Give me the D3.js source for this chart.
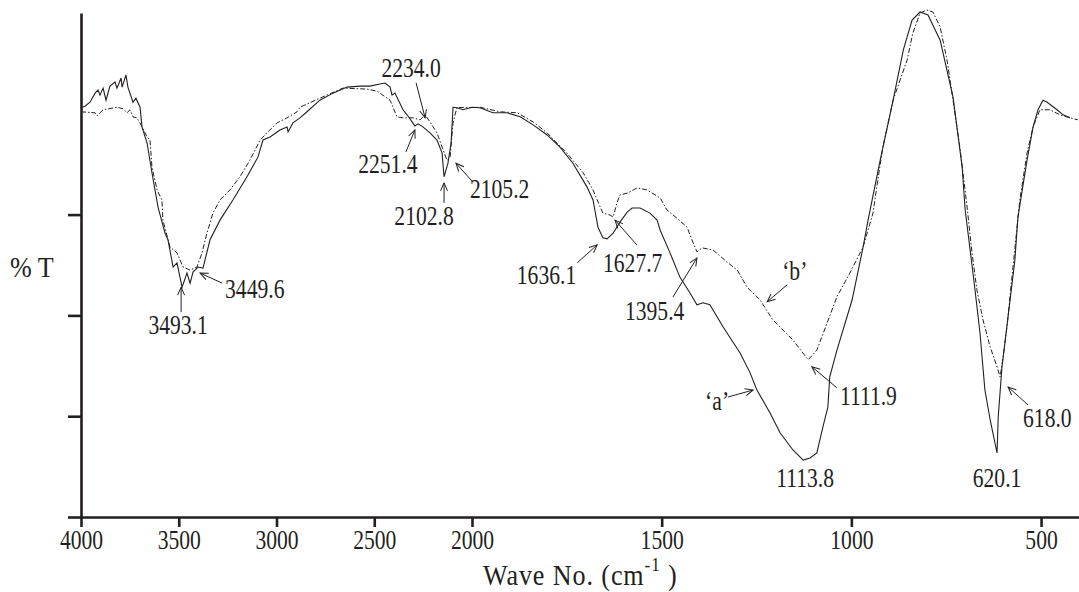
<!DOCTYPE html>
<html>
<head>
<meta charset="utf-8">
<script src="https://cdn.jsdelivr.net/npm/d3@7"></script>
<style>
  body { margin: 0; background: #fff; }
  svg { display: block; }
  text { font-family: "Liberation Serif", "Times New Roman", serif; fill: #231f20; }
</style>
</head>
<body>
<svg></svg>
<script>
// wave numbers (cm-1) and %T, sample 'a' (solid)
const waveA = [4000,3980,3954,3928,3913,3903,3887,3872,3852,3826,3816,3795,3790,3770,3760,3734,3719,3698,3688,3662,
  3637,3606,3570,3555,3529,3509,3483,3458,3442,3427,3402,3376,3340,3289,3223,3151,3095,3069,3033,2982,
  2946,2941,2916,2880,2844,2778,2711,2639,2573,2522,2471,2445,2419,2409,2394,2353,2332,2292,2276,2251,
  2215,2179,2153,2143,2123,2107,2097,2077,2046,2000,1979,1945,1908,1873,1839,1802,1768,1734,1697,1681,
  1668,1655,1644,1628,1610,1591,1578,1557,1531,1512,1504,1478,1452,1425,1407,1391,1373,1338,1293,1267,
  1249,1214,1188,1154,1127,1109,1091,1075,1062,1057,1038,998,969,956,924,890,863,840,819,798,
  766,732,708,700,687,674,661,648,634,616,613,603,587,569,561,537,521,508,495,484,
  458,442,424];
const transA = [81.2,81.5,82.3,84.1,84.7,83.7,85.1,82.7,85.5,86.3,85.1,87.1,85.3,87.7,85.3,82.3,83.1,81.3,77.4,74.2,
  68.3,61.5,56.3,55.0,49.6,50.4,45.6,48.4,46.4,48.6,49.6,49.4,55.0,58.9,62.9,67.5,71.4,74.8,75.4,76.8,
  77.4,76.4,78.2,79.2,80.4,82.7,84.1,85.3,85.5,85.5,85.9,86.1,85.3,83.7,84.1,80.8,79.8,77.6,78.0,77.4,
  76.2,74.8,72.2,67.5,70.2,74.2,81.3,81.2,80.8,81.3,81.2,80.2,80.2,79.4,77.8,75.8,73.4,70.2,65.5,62.9,
  57.5,55.4,55.2,56.3,58.5,60.5,61.3,61.3,60.3,58.9,56.9,52.4,47.6,44.4,42.1,42.5,42.1,37.7,32.5,28.6,
  25.2,20.6,16.7,13.3,11.3,11.7,12.7,17.9,21.8,27.8,33.1,43.1,53.6,58.9,70.8,82.7,92.7,98.6,100.2,99.6,
  94.6,83.3,69.4,60.9,53.0,45.0,36.5,25.2,19.2,12.7,19.8,29.8,39.7,51.0,59.5,70.8,77.4,80.8,82.7,82.3,
  80.8,79.8,79.2];

// sample 'b' (dashed)
const waveB = [4000,3928,3918,3887,3816,3785,3765,3749,3734,3714,3698,3662,3647,3637,3611,3586,3581,3545,3509,3478,
  3442,3407,3381,3356,3325,3289,3238,3187,3136,3084,3049,2997,2946,2895,2880,2778,2660,2537,2486,2419,
  2384,2353,2302,2266,2240,2215,2179,2153,2128,2112,2097,2077,2026,1979,1926,1881,1839,1802,1750,1707,
  1681,1670,1655,1636,1628,1618,1610,1589,1565,1539,1504,1486,1460,1433,1417,1407,1394,1365,1328,1301,
  1275,1241,1207,1154,1114,1091,1064,1038,1004,969,943,933,917,890,853,838,819,801,785,766,
  748,732,713,695,682,669,653,634,616,608,600,590,574,556,537,521,503,477,450,424,
  403];
const transB = [80.4,80.2,79.6,80.8,81.3,81.0,80.2,80.8,79.4,79.2,78.2,75.4,74.8,69.4,64.9,62.9,58.9,53.6,52.4,49.6,
  49.0,49.6,52.4,56.3,60.3,62.9,64.9,67.5,70.8,74.8,76.2,78.2,79.2,80.4,81.3,83.1,85.1,84.9,84.5,82.7,
  79.4,79.2,79.2,78.8,79.8,78.4,76.2,73.4,70.8,71.4,78.2,81.3,81.2,81.3,80.4,80.2,78.4,76.2,72.2,68.3,
  64.9,62.9,60.3,59.9,59.5,62.3,63.9,64.3,65.3,64.9,63.3,60.9,59.3,57.5,54.4,52.6,53.4,53.0,50.6,49.0,
  45.6,43.1,39.1,35.1,31.2,33.1,38.5,43.7,48.4,53.6,60.3,65.5,73.4,82.7,90.7,96.0,100.0,100.6,100.2,97.2,
  90.7,82.7,72.8,61.5,52.4,45.0,39.1,33.7,29.8,27.8,31.7,37.7,49.6,62.9,72.2,77.4,80.8,80.8,79.8,79.2,
  78.8];

const xTicks = [4000, 3500, 3000, 2500, 2000, 1500, 1000, 500];
const yTicks = [0, 20, 40, 60];

// peak labels: tip of the arrow in data units
const peakLabels = ['3493.1','3449.6','2234.0','2251.4','2102.8','2105.2','1636.1','1627.7','1395.4','\u2018b\u2019','\u2018a\u2019','1113.8','1111.9','620.1','618.0'];
const peakWave   = [3488, 3391, 2240, 2292, 2143, 2082, 1670, 1623, 1407, 1222, 1259, 1122, 1104, 616, 587];
const peakTrans  = [45.6, 48.4, 79.2, 76.8, 66.3, 70.2, 54.0, 58.9, 51.4, 42.7, 25.2, 10.9, 29.8, 11.3, 25.8];

// layout of each label relative to its tip (px): arrow tail, text position, anchor
const peakLayout = [
  {tx: 0,   ty: 25,  dx: -3,  dy: 47, anchor: 'middle'},
  {tx: 22,  ty: 10,  dx: 25,  dy: 25, anchor: 'start'},
  {tx: -9,  ty: -35, dx: -14, dy: -41, anchor: 'middle'},
  {tx: -9,  ty: 22,  dx: -27, dy: 43, anchor: 'middle'},
  {tx: 0,   ty: 20,  dx: -20, dy: 42, anchor: 'middle'},
  {tx: 17,  ty: 19,  dx: 14,  dy: 35, anchor: 'start'},
  {tx: -20, ty: 18,  dx: -21, dy: 39, anchor: 'end'},
  {tx: 22,  ty: 25,  dx: -12, dy: 52, anchor: 'start'},
  {tx: -24, ty: 39,  dx: -72, dy: 62, anchor: 'start'},
  {tx: 20,  ty: -17, dx: 15,  dy: -22, anchor: 'start'},
  {tx: -25, ty: 7,   dx: -48, dy: 20, anchor: 'start'},
  {tx: null, ty: null, dx: 0, dy: 25, anchor: 'middle'},
  {tx: 25,  ty: 21,  dx: 28,  dy: 38, anchor: 'start'},
  {tx: null, ty: null, dx: 0, dy: 27, anchor: 'middle'},
  {tx: 20,  ty: 18,  dx: 15,  dy: 40, anchor: 'start'}
];

const width = 1079, height = 592;
const ink = '#231f20';
const squeeze = 'scale(0.8,1)';   // the original type is a narrow Times

const svg = d3.select('svg')
  .attr('width', width)
  .attr('height', height);

// IR chart: scale doubles below 2000 cm-1
const xScale = d3.scaleLinear()
  .domain([4000, 2000, 400])
  .range([81, 472, 1079]);

const yScale = d3.scaleLinear()
  .domain([0, 100])
  .range([517, 13]);

const xAxis = d3.axisBottom(xScale)
  .tickValues(xTicks)
  .tickFormat(d3.format('d'))
  .tickSize(10)
  .tickSizeOuter(0)
  .tickPadding(3);

const yAxis = d3.axisLeft(yScale)
  .tickValues(yTicks)
  .tickFormat('')
  .tickSize(13)
  .tickSizeOuter(0);

const gx = svg.append('g')
  .attr('transform', `translate(0,${yScale(0)})`)
  .call(xAxis);
gx.selectAll('text')
  .attr('font-size', 27)
  .attr('fill', ink)
  .attr('transform', squeeze)
  .style('font-family', '"Liberation Serif", serif');

svg.append('g')
  .attr('transform', `translate(${xScale(4000)},0)`)
  .call(yAxis);

svg.selectAll('.domain, .tick line')
  .attr('stroke', ink)
  .attr('stroke-width', 2.6);

const line = d3.line()
  .x(d => xScale(d[0]))
  .y(d => yScale(d[1]));

svg.append('path')
  .datum(d3.zip(waveB, transB))
  .attr('d', line)
  .attr('fill', 'none')
  .attr('stroke', ink)
  .attr('stroke-width', 1)
  .attr('stroke-dasharray', '5,2,1.5,2');

svg.append('path')
  .datum(d3.zip(waveA, transA))
  .attr('d', line)
  .attr('fill', 'none')
  .attr('stroke', ink)
  .attr('stroke-width', 1.1);

svg.append('defs').append('marker')
  .attr('id', 'arrow')
  .attr('markerUnits', 'userSpaceOnUse')
  .attr('markerWidth', 14).attr('markerHeight', 14)
  .attr('refX', 0).attr('refY', 0)
  .attr('viewBox', '-10 -7 14 14')
  .attr('orient', 'auto')
  .append('path')
  .attr('d', 'M-8,-3.5L0,0L-8,3.5')
  .attr('fill', 'none')
  .attr('stroke', ink)
  .attr('stroke-width', 1);

const peaks = peakLabels.map((label, i) => ({
  label,
  x: xScale(peakWave[i]),
  y: yScale(peakTrans[i]),
  ...peakLayout[i]
}));

const gp = svg.append('g');

gp.selectAll('line')
  .data(peaks.filter(p => p.tx !== null))
  .join('line')
  .attr('x1', d => d.x + d.tx)
  .attr('y1', d => d.y + d.ty)
  .attr('x2', d => d.x)
  .attr('y2', d => d.y)
  .attr('stroke', ink)
  .attr('stroke-width', 1)
  .attr('marker-end', 'url(#arrow)');

gp.selectAll('text')
  .data(peaks)
  .join('text')
  .attr('transform', d => `translate(${d.x + d.dx},${d.y + d.dy}) ${squeeze}`)
  .attr('text-anchor', d => d.anchor)
  .attr('font-size', 27)
  .text(d => d.label);

svg.append('text')
  .attr('transform', `translate(10,277) scale(0.9,1)`)
  .attr('font-size', 29)
  .text('% T');

const xl = svg.append('text')
  .attr('transform', `translate(483,585) scale(0.9,1)`)
  .attr('font-size', 29)
  .attr('letter-spacing', 1);
xl.append('tspan').text('Wave No. (cm');
xl.append('tspan').attr('dy', -14).attr('font-size', 19).text('-1');
xl.append('tspan').attr('dy', 14).text(' )');
</script>
</body>
</html>
